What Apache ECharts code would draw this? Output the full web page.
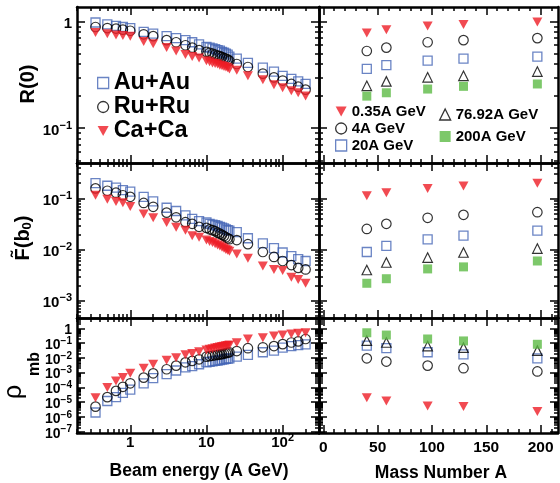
<!DOCTYPE html>
<html>
<head>
<meta charset="utf-8">
<script src="https://cdn.jsdelivr.net/npm/echarts@6/dist/echarts.min.js"></script>
<style>
  html, body { margin: 0; padding: 0; background: #fff; }
  #chart { width: 560px; height: 483px; }
</style>
</head>
<body>
<div id="chart"></div>
<script>
// beam energies (A GeV), left column
const energies = [0.35, 0.5, 0.65, 0.8, 1, 1.5, 2, 3, 4, 5.3, 6.5, 8, 10, 11, 12, 13, 14, 15, 16, 17, 18, 19, 20, 25, 35, 55, 76.92, 100, 130, 160, 200];

// R(0) vs beam energy
const rAu = [0.98, 0.94, 0.91, 0.89, 0.87, 0.80, 0.77, 0.73, 0.70, 0.67, 0.64, 0.61, 0.58, 0.57, 0.56, 0.55, 0.54, 0.535, 0.52, 0.51, 0.50, 0.49, 0.47, 0.45, 0.41, 0.37, 0.34, 0.31, 0.29, 0.275, 0.26];
const rRu = [0.89, 0.87, 0.86, 0.84, 0.82, 0.76, 0.73, 0.67, 0.64, 0.60, 0.57, 0.54, 0.52, 0.51, 0.50, 0.49, 0.48, 0.475, 0.465, 0.455, 0.45, 0.44, 0.43, 0.40, 0.375, 0.325, 0.30, 0.28, 0.26, 0.245, 0.23];
const rCa = [0.79, 0.77, 0.75, 0.74, 0.73, 0.65, 0.62, 0.57, 0.53, 0.49, 0.47, 0.455, 0.43, 0.42, 0.41, 0.405, 0.40, 0.39, 0.385, 0.38, 0.375, 0.37, 0.36, 0.35, 0.31, 0.285, 0.256, 0.24, 0.225, 0.215, 0.20];

// F~(b0) vs beam energy
const fAu = [0.20, 0.178, 0.163, 0.146, 0.136, 0.108, 0.088, 0.066, 0.057, 0.047, 0.040, 0.036, 0.034, 0.032, 0.031, 0.030, 0.029, 0.028, 0.027, 0.026, 0.025, 0.024, 0.0235, 0.022, 0.0167, 0.0133, 0.0107, 0.0088, 0.0075, 0.0065, 0.006];
const fRu = [0.158, 0.142, 0.13, 0.116, 0.108, 0.082, 0.069, 0.053, 0.043, 0.0345, 0.032, 0.028, 0.0267, 0.025, 0.024, 0.023, 0.0215, 0.0205, 0.0195, 0.0185, 0.0175, 0.0167, 0.016, 0.0154, 0.0128, 0.009, 0.0072, 0.006, 0.005, 0.0044, 0.0041];
const fCa = [0.116, 0.097, 0.088, 0.083, 0.070, 0.050, 0.042, 0.034, 0.0275, 0.024, 0.0188, 0.0175, 0.0154, 0.0145, 0.0138, 0.013, 0.0124, 0.0118, 0.0112, 0.0106, 0.0101, 0.0097, 0.0093, 0.0082, 0.0068, 0.0048, 0.0041, 0.0039, 0.0029, 0.0026, 0.0022];

// rho_mb vs beam energy
const pAu = [2e-6, 1.2e-5, 2.2e-5, 4.3e-5, 7e-5, 1.9e-4, 4.2e-4, 8e-4, 1.4e-3, 2.3e-3, 2.8e-3, 3.7e-3, 5e-3, 5.4e-3, 5.8e-3, 6.2e-3, 6.6e-3, 7e-3, 7.5e-3, 8e-3, 8.5e-3, 9e-3, 9.3e-3, 0.012, 0.016, 0.024, 0.031, 0.049, 0.063, 0.074, 0.083];
const pRu = [5e-6, 2.2e-5, 5.8e-5, 1.1e-4, 1.9e-4, 4.6e-4, 9e-4, 1.7e-3, 3e-3, 5e-3, 6.2e-3, 8e-3, 0.012, 0.013, 0.014, 0.015, 0.016, 0.017, 0.018, 0.0195, 0.021, 0.0225, 0.024, 0.029, 0.045, 0.052, 0.063, 0.085, 0.11, 0.13, 0.19];
const pCa = [2e-5, 1e-4, 2.7e-4, 4.6e-4, 9e-4, 2e-3, 3.7e-3, 7e-3, 0.010, 0.016, 0.020, 0.026, 0.034, 0.038, 0.042, 0.046, 0.05, 0.054, 0.058, 0.062, 0.066, 0.07, 0.074, 0.107, 0.19, 0.23, 0.30, 0.35, 0.41, 0.46, 0.50];

// right column: mass number A
const massNumbers = [40, 58, 96, 129, 197];
const r035 = [0.78, 0.84, 0.91, 0.94, 0.99];
const r4 = [0.53, 0.57, 0.64, 0.67, 0.70];
const r20 = [0.36, 0.39, 0.43, 0.45, 0.47];
const r77 = [0.25, 0.275, 0.30, 0.31, 0.34];
const r200 = [0.20, 0.215, 0.233, 0.247, 0.26];
const f035 = [0.113, 0.13, 0.158, 0.175, 0.20];
const f4 = [0.0254, 0.032, 0.042, 0.048, 0.054];
const f20 = [0.009, 0.0119, 0.0159, 0.0188, 0.0235];
const f77 = [0.004, 0.0056, 0.0070, 0.0088, 0.0105];
const f200 = [0.0022, 0.0027, 0.0042, 0.0046, 0.006];
const p035 = [2e-5, 1.2e-5, 5.6e-6, 5.1e-6, 2.3e-6];
const p4 = [0.0093, 0.0056, 0.003, 0.002, 0.0012];
const p20 = [0.067, 0.045, 0.024, 0.017, 0.0093];
const p77 = [0.145, 0.11, 0.063, 0.049, 0.031];
const p200 = [0.5, 0.35, 0.19, 0.14, 0.083];

const systems = ['Au+Au', 'Ru+Ru', 'Ca+Ca'];
const energyLabels = ['0.35A GeV', '4A GeV', '20A GeV', '76.92A GeV', '200A GeV'];

const FONT = '"Liberation Sans", Arial, Helvetica, sans-serif';
const RED = '#ee1d25', BLUE = '#4565b5', GREEN = '#5dba45';
const CLEAR = 'rgba(255,255,255,0)';
const DOWN = 'path://M0,0L10,0L5,9Z';

const markers = {
  'Au+Au': { symbol: 'rect', size: 9, style: { color: CLEAR, borderColor: BLUE, borderWidth: 1.3 } },
  'Ru+Ru': { symbol: 'circle', size: 9.5, style: { color: CLEAR, borderColor: '#000', borderWidth: 1.2 } },
  'Ca+Ca': { symbol: DOWN, size: [10, 9], style: { color: RED } },
  '0.35A GeV': { symbol: DOWN, size: [10, 9], style: { color: RED } },
  '4A GeV': { symbol: 'circle', size: 9.5, style: { color: CLEAR, borderColor: '#000', borderWidth: 1.2 } },
  '20A GeV': { symbol: 'rect', size: 9, style: { color: CLEAR, borderColor: BLUE, borderWidth: 1.3 } },
  '76.92A GeV': { symbol: 'triangle', size: 9.5, style: { color: CLEAR, borderColor: '#000', borderWidth: 1.2 } },
  '200A GeV': { symbol: 'rect', size: 9, style: { color: GREEN } }
};

const cols = [{ left: 77, width: 242 }, { left: 319, width: 239 }];
const rows = [{ top: 7, height: 156 }, { top: 163, height: 155 }, { top: 318, height: 115 }];
const yRange = [[0.0472, 1.37], [4.6e-4, 0.496], [8.2e-8, 5.0]];

function logTicks(min, max) {
  const major = [], minor = [];
  for (let e = Math.floor(Math.log10(min)); e <= Math.ceil(Math.log10(max)); e++) {
    for (let m = 1; m <= 9; m++) {
      const v = +(m * Math.pow(10, e)).toPrecision(6);
      if (v < min || v > max) continue;
      (m === 1 ? major : minor).push(v);
    }
  }
  return { major, minor };
}
function linTicks(min, max, step, every) {
  const major = [], minor = [];
  for (let v = Math.ceil(min / step) * step; v <= max; v += step) {
    (v % every === 0 ? major : minor).push(v);
  }
  return { major, minor };
}

function powLabel(v) {
  const e = Math.round(Math.log10(v));
  if (e === 0) return '{b|1}';
  if (e === 1) return '{b|10}';
  return '{b|10}{s|' + (e < 0 ? '\u2212' : '') + Math.abs(e) + '}';
}
function richFor(big, small, lh, pad) {
  return {
    b: { fontSize: big, fontWeight: 'bold', fontFamily: FONT, color: '#000', lineHeight: lh, padding: [pad, 0, 0, 0] },
    s: { fontSize: small, fontWeight: 'bold', fontFamily: FONT, color: '#000', lineHeight: small + 1, verticalAlign: 'top' }
  };
}

const grids = [], xAxes = [], yAxes = [], series = [];

function axisBase(type, min, max, pos, ticks, len, showLine) {
  return {
    type, min, max, position: pos,
    axisLine: { show: showLine, onZero: false, lineStyle: { color: '#000', width: 2.5 } },
    axisTick: { show: true, inside: true, length: len, customValues: ticks, lineStyle: { color: '#000', width: 1.5 } },
    axisLabel: { show: false },
    splitLine: { show: false },
    minorTick: { show: false },
    minorSplitLine: { show: false }
  };
}

const labelCommon = { show: true, fontSize: 15, fontWeight: 'bold', fontFamily: FONT, color: '#000', hideOverlap: false };

rows.forEach((row, ri) => {
  cols.forEach((col, ci) => {
    const gi = grids.length;
    grids.push({ left: col.left, top: row.top, width: col.width, height: row.height });

    const xType = ci === 0 ? 'log' : 'value';
    const xMin = ci === 0 ? 0.2 : -4, xMax = ci === 0 ? 300 : 216;
    const xt = ci === 0 ? logTicks(xMin, xMax) : linTicks(xMin, xMax, 10, 50);
    const [yMin, yMax] = yRange[ri];
    const yt = logTicks(yMin, yMax);

    let xMain = null, yMain = null;
    ['bottom', 'top'].forEach(pos => {
      const a = axisBase(xType, xMin, xMax, pos, xt.major, 8, true);
      if (pos === 'bottom' && ri === 2) {
        if (ci === 0) {
          a.axisLabel = Object.assign({}, labelCommon, { customValues: xt.major, formatter: powLabel,
            margin: -1, rich: richFor(15, 11, 16, 5) });
        } else {
          a.axisLabel = Object.assign({}, labelCommon, { customValues: xt.major, margin: 7,
            lineHeight: 16, fontSize: 15.5 });
        }
      }
      xAxes.push(Object.assign(a, { gridIndex: gi }));
      if (pos === 'bottom') xMain = xAxes.length - 1;
      xAxes.push(Object.assign(axisBase(xType, xMin, xMax, pos, xt.minor, 4, false), { gridIndex: gi }));
    });
    ['left', 'right'].forEach(pos => {
      const a = axisBase('log', yMin, yMax, pos, yt.major, 8, true);
      const b = axisBase('log', yMin, yMax, pos, yt.minor, 4, false);
      if (pos === 'left' && ci === 0) {
        if (ri === 2) {
          // the decades are tight here: split the labels over the two left axes so none collide
          const rich = richFor(14, 10, 14, 4);
          const even = yt.major.filter(v => Math.round(Math.log10(v)) % 2 === 0);
          const odd = yt.major.filter(v => Math.round(Math.log10(v)) % 2 !== 0);
          a.axisLabel = Object.assign({}, labelCommon, { customValues: even, formatter: powLabel, margin: 5, rich });
          b.axisLabel = Object.assign({}, labelCommon, { customValues: odd, formatter: powLabel, margin: 5, rich });
        } else {
          a.axisLabel = Object.assign({}, labelCommon, { customValues: yt.major, formatter: powLabel,
            margin: 5, rich: richFor(15, 11, 16, 5) });
        }
      }
      yAxes.push(Object.assign(a, { gridIndex: gi }));
      if (pos === 'left') yMain = yAxes.length - 1;
      yAxes.push(Object.assign(b, { gridIndex: gi }));
    });

    const add = (name, xs, ys) => {
      const m = markers[name];
      series.push({
        type: 'scatter', name, xAxisIndex: xMain, yAxisIndex: yMain, silent: true,
        symbol: m.symbol, symbolSize: m.size, itemStyle: m.style,
        data: xs.map((x, i) => [x, ys[i]])
      });
    };
    if (ci === 0) {
      const sets = [[rAu, rRu, rCa], [fAu, fRu, fCa], [pAu, pRu, pCa]][ri];
      systems.forEach((s, k) => add(s, energies, sets[k]));
    } else {
      const sets = [[r035, r4, r20, r77, r200], [f035, f4, f20, f77, f200], [p035, p4, p20, p77, p200]][ri];
      energyLabels.forEach((s, k) => add(s, massNumbers, sets[k]));
    }
  });
});

const legendBase = {
  orient: 'vertical', padding: 0, itemWidth: 11, itemHeight: 11, selectedMode: false,
  itemStyle: { borderWidth: 1.3 },
  textStyle: { fontWeight: 'bold', fontFamily: FONT, color: '#000' }
};
const legends = [
  Object.assign({}, legendBase, { data: systems, left: 97, top: 71, itemGap: 0,
    textStyle: Object.assign({}, legendBase.textStyle, { fontSize: 23.5 }) }),
  Object.assign({}, legendBase, { data: energyLabels.slice(0, 3), left: 335, top: 104, itemGap: 2,
    textStyle: Object.assign({}, legendBase.textStyle, { fontSize: 15 }) }),
  Object.assign({}, legendBase, { data: energyLabels.slice(3), left: 439, top: 107, itemGap: 7,
    textStyle: Object.assign({}, legendBase.textStyle, { fontSize: 15 }) })
];

function title(x, y, rot, text, size, weight, rich) {
  return {
    type: 'text', x, y, rotation: rot, silent: true,
    style: { text, fontSize: size, fontWeight: weight, fontFamily: FONT, fill: '#000',
      align: 'center', verticalAlign: 'middle', rich }
  };
}

const chart = echarts.init(document.getElementById('chart'), null, { renderer: 'canvas' });
chart.setOption({
  animation: false,
  backgroundColor: '#fff',
  grid: grids,
  xAxis: xAxes,
  yAxis: yAxes,
  legend: legends,
  series,
  graphic: [
    title(199, 471.5, 0, 'Beam energy (A GeV)', 17.5, 'bold'),
    title(441, 473, 0, 'Mass Number A', 17.5, 'bold'),
    title(28.5, 84, Math.PI / 2, 'R(0)', 20, 'bold'),
    title(23, 238, Math.PI / 2, '{m|F\u0303(b}{s|0}{m|)}', 20, 'bold', {
      m: { fontSize: 20, fontWeight: 'bold', fontFamily: FONT, lineHeight: 22 },
      s: { fontSize: 13, fontWeight: 'bold', fontFamily: FONT, lineHeight: 13, verticalAlign: 'bottom' }
    }),
    title(14, 392, Math.PI / 2, '\u03c1', 25, 'normal'),
    title(35, 364, Math.PI / 2, 'mb', 16, 'bold')
  ]
});
</script>
</body>
</html>
